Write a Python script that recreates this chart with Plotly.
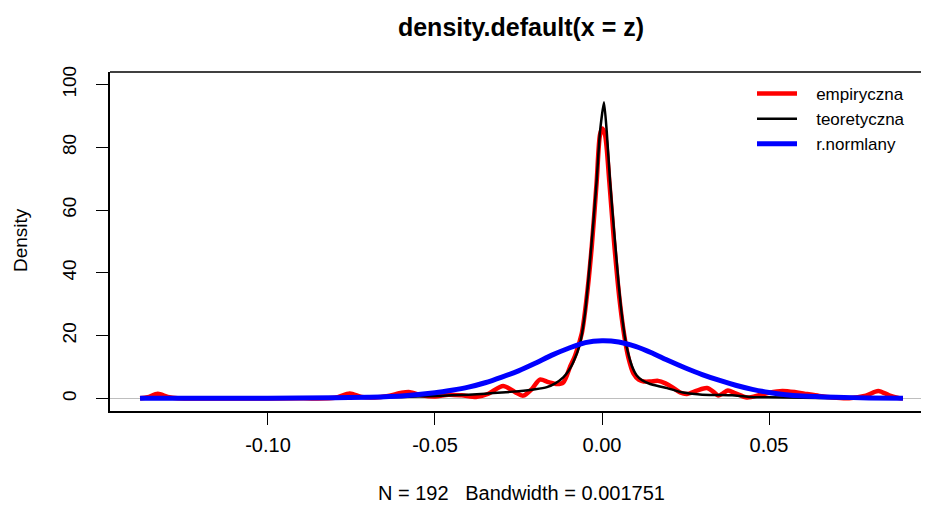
import plotly.graph_objects as go

# ---- data ----
emp_x = [-0.1383, -0.136, -0.133, -0.130, -0.127, -0.110, -0.090, -0.080, -0.0755, -0.072,
         -0.068, -0.064, -0.060, -0.0575, -0.054, -0.050, -0.046, -0.042, -0.0374, -0.034,
         -0.0296, -0.026, -0.0236, -0.021, -0.0186, -0.0160, -0.0135, -0.0116, -0.0096, -0.0081,
         -0.0061, -0.0046, -0.0031, -0.0016, -0.0006, 0.0001, 0.0009, 0.0022, 0.0036, 0.0052,
         0.0066, 0.0079, 0.0094, 0.0110, 0.0125, 0.0145, 0.0168, 0.0190, 0.0210, 0.0234,
         0.0254, 0.0284, 0.0314, 0.0335, 0.0348, 0.0362, 0.0377, 0.0400, 0.0434, 0.0470,
         0.0500, 0.0540, 0.0580, 0.0614, 0.0650, 0.0690, 0.0740, 0.0790, 0.0827, 0.0860,
         0.0890, 0.0901]
emp_y = [0.05, 0.4, 1.5, 0.5, 0.05, 0.02, 0.03, 0.2, 1.6, 0.5,
         0.3, 0.8, 1.8, 2.0, 1.0, 0.6, 1.2, 1.0, 0.5, 1.5,
         4.0, 2.0, 0.9, 3.0, 6.0, 5.2, 4.6, 5.1, 10.0, 13.5,
         20.5, 32.0, 48.0, 69.0, 84.0, 86.0, 84.0, 69.0, 50.0, 32.0,
         20.5, 13.0, 8.0, 6.0, 5.4, 5.4, 5.6, 4.8, 3.6, 1.9,
         1.4, 2.5, 3.3, 2.0, 0.9, 1.6, 2.5, 1.6, 0.3, 1.0,
         1.8, 2.4, 2.0, 1.4, 0.8, 0.3, 0.1, 0.9, 2.4, 1.0,
         0.1, 0.05]

teo_x = [-0.1383, -0.12, -0.10, -0.08, -0.06, -0.050, -0.045, -0.040, -0.035, -0.030,
         -0.025, -0.020, -0.0165, -0.0140, -0.0116, -0.0100, -0.0086, -0.0066, -0.0051, -0.0041,
         -0.0028, -0.0016, -0.0006, 0.0006, 0.0014, 0.0024, 0.0036, 0.0049, 0.0059, 0.0072,
         0.0089, 0.0104, 0.0120, 0.0144, 0.0170, 0.0195, 0.0220, 0.0243, 0.0270, 0.0300,
         0.0350, 0.0390, 0.0440, 0.0500, 0.060, 0.070, 0.080, 0.0901]
teo_y = [0.05, 0.1, 0.15, 0.3, 0.5, 0.8, 1.0, 1.2, 1.5, 1.9,
         2.3, 2.9, 3.6, 4.8, 6.7, 8.8, 11.5, 17.4, 27.0, 37.5,
         53.5, 69.4, 85.0, 94.4, 85.3, 69.4, 53.5, 37.5, 27.0, 17.4,
         10.5, 7.3, 5.8, 4.6, 3.9, 3.3, 2.5, 1.9, 1.5, 1.2,
         1.1, 1.0, 0.5, 0.35, 0.2, 0.12, 0.08, 0.05]

norm_x = [-0.1383, -0.12, -0.10, -0.08, -0.07, -0.06, -0.05, -0.045, -0.04, -0.035,
          -0.03, -0.025, -0.02, -0.015, -0.01, -0.005, 0.0, 0.005, 0.01, 0.015,
          0.02, 0.025, 0.03, 0.035, 0.04, 0.045, 0.05, 0.055, 0.06, 0.07,
          0.08, 0.0901]
norm_y = [0.05, 0.05, 0.1, 0.2, 0.4, 0.8, 1.8, 2.6, 3.6, 5.0,
          6.8, 8.8, 11.2, 13.8, 16.0, 17.8, 18.4, 18.0, 16.6, 14.5,
          12.0, 9.7, 7.6, 5.8, 4.2, 2.9, 1.9, 1.2, 0.8, 0.4,
          0.15, 0.05]

x_tick_vals = [-0.10, -0.05, 0.00, 0.05]
x_tick_text = ["-0.10", "-0.05", "0.00", "0.05"]
y_tick_vals = [0, 20, 40, 60, 80, 100]
y_tick_text = ["0", "20", "40", "60", "80", "100"]

FONT = "Liberation Sans, Arial, sans-serif"

# page body has an 8px margin: figure is drawn 8px in from the top-left corner
OFF = 8
W, H = 929 - OFF, 505 - OFF
L, T = 110 - OFF, 72 - OFF
B = 505 - 411
PW, PH = W - L, H - T - B


def px_x(p):
    return (p - OFF - L) / PW


def px_y(p):
    return (H - B - (p - OFF)) / PH


SP = "\u00a0\u00a0\u00a0"

fig = go.Figure()
fig.add_trace(go.Scatter(x=emp_x, y=emp_y, mode="lines", name=SP + "empiryczna",
                         line=dict(color="#ff0000", width=4.5, shape="spline", smoothing=0.8)))
fig.add_trace(go.Scatter(x=teo_x, y=teo_y, mode="lines", name=SP + "teoretyczna",
                         line=dict(color="#000000", width=2.5, shape="spline", smoothing=0.5)))
fig.add_trace(go.Scatter(x=norm_x, y=norm_y, mode="lines", name=SP + "r.normlany",
                         line=dict(color="#0000ff", width=5, shape="spline", smoothing=0.8)))

fig.update_layout(
    width=W, height=H,
    margin=dict(l=L, r=0, t=T, b=B, autoexpand=False),
    paper_bgcolor="white", plot_bgcolor="white",
    font=dict(family=FONT, size=19, color="black"),
    title=dict(text="<b>density.default(x = z)</b>", x=(521 - OFF) / W, xanchor="center",
               y=1 - (27 - OFF) / H, yanchor="middle", font=dict(size=25, family=FONT, color="black")),
    showlegend=True,
    legend=dict(x=px_x(752), y=px_y(76), xanchor="left", yanchor="top",
                bgcolor="rgba(0,0,0,0)", font=dict(size=17, family=FONT), itemwidth=40,
                tracegroupgap=0),
    xaxis=dict(range=[-0.1473, 0.0979], showgrid=False, zeroline=False,
               tickmode="array", tickvals=x_tick_vals, ticktext=x_tick_text,
               ticks="outside", ticklen=12, tickwidth=1.3, tickcolor="black",
               showline=True, linecolor="black", linewidth=1.5,
               tickfont=dict(size=20, family=FONT), ticklabelstandoff=3),
    yaxis=dict(range=[-4, 104], showgrid=False, zeroline=True, zerolinecolor="#bebebe",
               zerolinewidth=1, tickmode="array", tickvals=y_tick_vals, ticktext=y_tick_text,
               ticks="outside", ticklen=12, tickwidth=1.3, tickcolor="black",
               showline=True, linecolor="black", linewidth=1.5, tickangle=-90,
               tickfont=dict(size=19, family=FONT), ticklabelstandoff=13),
    shapes=[dict(type="line", xref="paper", yref="paper", x0=0, x1=1, y0=1, y1=1,
                 line=dict(color="black", width=1.5))],
    annotations=[
        dict(text="Density", xref="paper", yref="paper", x=px_x(20), y=px_y(240),
             textangle=-90, showarrow=False, xanchor="center", yanchor="middle",
             font=dict(size=19, family=FONT)),
        dict(text="N = 192\u00a0\u00a0\u00a0Bandwidth = 0.001751", xref="paper", yref="paper",
             x=px_x(521), y=px_y(493), showarrow=False,
             xanchor="center", yanchor="middle", font=dict(size=20, family=FONT)),
    ],
)

fig.write_html("out.html")
